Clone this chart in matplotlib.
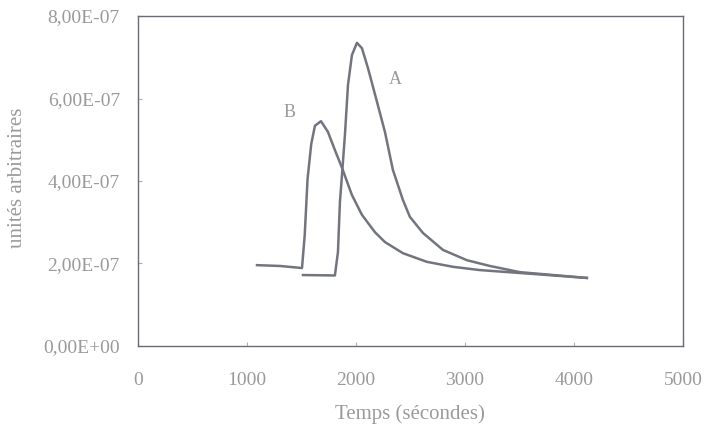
import matplotlib.pyplot as plt
from matplotlib.ticker import FuncFormatter

# curve A
a_time = [1514, 1807, 1835, 1853, 1872, 1899, 1927, 1963, 2009, 2055, 2110, 2193,
          2266, 2339, 2431, 2495, 2615, 2798, 3018, 3229, 3505, 4119]
a_value = [1.72e-7, 1.71e-7, 2.28e-7, 3.49e-7, 4.15e-7, 5.12e-7, 6.33e-7, 7.05e-7,
           7.35e-7, 7.22e-7, 6.74e-7, 5.92e-7, 5.19e-7, 4.27e-7, 3.54e-7, 3.13e-7,
           2.74e-7, 2.33e-7, 2.08e-7, 1.94e-7, 1.79e-7, 1.65e-7]

# curve B
b_time = [1092, 1303, 1505, 1530, 1556, 1590, 1624, 1679, 1743, 1807, 1872, 1963,
          2055, 2174, 2266, 2431, 2651, 2890, 3138, 3505, 4119]
b_value = [1.96e-7, 1.94e-7, 1.89e-7, 2.69e-7, 4.05e-7, 4.90e-7, 5.34e-7, 5.45e-7,
           5.19e-7, 4.75e-7, 4.32e-7, 3.66e-7, 3.18e-7, 2.76e-7, 2.52e-7, 2.25e-7,
           2.04e-7, 1.92e-7, 1.84e-7, 1.77e-7, 1.65e-7]

x_ticks = [0, 1000, 2000, 3000, 4000, 5000]
y_ticks = [0, 2e-7, 4e-7, 6e-7, 8e-7]

text_color = '#9a9a9a'
line_color = '#72757f'

plt.rcParams['font.family'] = ['Liberation Serif', 'DejaVu Serif']

fig = plt.figure(figsize=(7.04, 4.28), dpi=100)
ax = fig.add_axes([0.196, 0.1916, 0.774, 0.771])

ax.plot(a_time, a_value, color=line_color, lw=1.8, solid_joinstyle='round')
ax.plot(b_time, b_value, color=line_color, lw=1.8, solid_joinstyle='round')

ax.text(2358, 6.45e-7, 'A', color=text_color, fontsize=13, ha='center', va='center')
ax.text(1395, 5.67e-7, 'B', color=text_color, fontsize=13, ha='center', va='center')

ax.set_xlim(0, 5000)
ax.set_ylim(0, 8e-7)
ax.set_xticks(x_ticks)
ax.set_yticks(y_ticks)


def sci_fr(v, pos):
    s = '%.2E' % v
    mant, exp = s.split('E')
    return mant.replace('.', ',') + 'E' + exp[0] + exp[1:].zfill(2)


ax.yaxis.set_major_formatter(FuncFormatter(sci_fr))
ax.tick_params(axis='both', direction='in', length=3, color='#b0b0b0',
               labelcolor=text_color, labelsize=14)
ax.tick_params(axis='x', pad=19)
ax.tick_params(axis='y', pad=13)

for sp in ax.spines.values():
    sp.set_color('#6a6a78')
    sp.set_linewidth(1.0)

ax.set_xlabel('Temps (sécondes)', color=text_color, fontsize=15, va='center')
ax.xaxis.set_label_coords(0.5, -0.207)
ax.set_ylabel('unités arbitraires', color=text_color, fontsize=15, va='center')
ax.yaxis.set_label_coords(-0.222, 0.51)

fig.savefig('out.png', dpi=100)
